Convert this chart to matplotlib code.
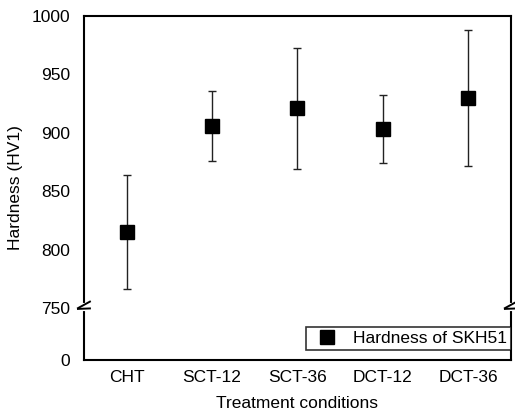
import numpy as np
import matplotlib.pyplot as plt
from matplotlib.transforms import blended_transform_factory

plt.rcParams['font.family'] = ['Liberation Sans', 'DejaVu Sans']

conditions = ["CHT", "SCT-12", "SCT-36", "DCT-12", "DCT-36"]
hardness = [815, 906, 921, 903, 930]
err_low = [49, 30, 52, 29, 58]
err_high = [49, 30, 52, 29, 58]
yticks = [0, 750, 800, 850, 900, 950, 1000]

# broken axis: everything below 750 is squeezed into a short segment
BREAK = 750
K = 0.0593


def fwd(y):
    y = np.asarray(y, dtype=float)
    return np.where(y >= BREAK, y, BREAK - (BREAK - y) * K)


def inv(y):
    y = np.asarray(y, dtype=float)
    return np.where(y >= BREAK, y, BREAK - (BREAK - y) / K)


fig = plt.figure(figsize=(5.15, 4.16), dpi=100)
ax = fig.add_axes([0.163, 0.1346, 0.829, 0.827])
ax.set_yscale('function', functions=(fwd, inv))

x = np.arange(len(conditions))
ax.errorbar(x, hardness, yerr=[err_low, err_high], fmt='none', ecolor='#222222',
            elinewidth=1.0, capsize=3, capthick=1.0, zorder=2)
ax.plot(x, hardness, 's', color='black', markersize=10.5, label='Hardness of SKH51', zorder=3)

ax.set_xlim(-0.5, len(conditions) - 0.5)
ax.set_ylim(0, 1000)
ax.set_yticks(yticks)
ax.set_yticklabels([str(t) for t in yticks])
ax.set_xticks(x)
ax.set_xticklabels(conditions)
ax.tick_params(axis='both', length=0, labelsize=12.5, colors='black')
ax.tick_params(axis='y', pad=10)
ax.tick_params(axis='x', pad=7)
ax.minorticks_off()

for s in ax.spines.values():
    s.set_linewidth(1.5)

ax.set_xlabel("Treatment conditions", fontsize=12.5, labelpad=8)
ax.set_ylabel("Hardness (HV1)", fontsize=12.5, labelpad=6)

# break marks on both vertical spines
tr = blended_transform_factory(ax.transAxes, ax.transData)
for xs in (0, 1):
    ax.plot([xs, xs], [741, 753], transform=tr, color='white', lw=3,
            clip_on=False, zorder=5)
    for yc in (741, 752):
        ax.plot([xs - 0.014, xs + 0.014], [yc - 3.5, yc + 3.5], transform=tr,
                color='black', lw=1.4, clip_on=False, zorder=6)

leg = ax.legend(loc='lower right', bbox_to_anchor=(1.0, 0.03), fontsize=12.5,
                frameon=True, fancybox=False, edgecolor='black',
                borderpad=0.22, handletextpad=0.5, borderaxespad=0)
leg.get_frame().set_linewidth(1.2)

fig.savefig('out.png', dpi=100)
